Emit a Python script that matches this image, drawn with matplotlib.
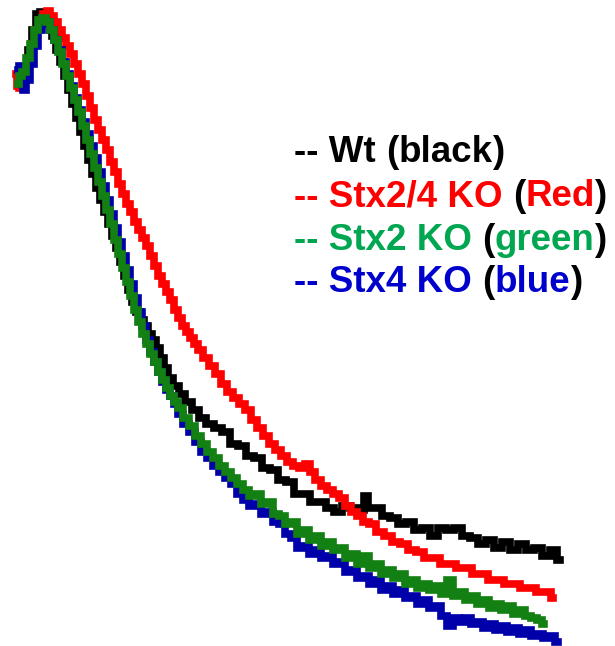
import numpy as np
import matplotlib
matplotlib.use('Agg')
import matplotlib.pyplot as plt

# traces (x = time, y = signal, in picture units, y grows downward)
wt_x = [18, 22, 26, 30, 34, 38, 42, 46, 50, 54, 58, 62, 66, 70, 74, 78, 82, 86, 90, 94, 98, 102, 106, 110, 114, 118,
        122, 126, 130, 134, 138, 142, 146, 150, 154, 158, 162, 166, 170, 176, 182, 188, 196, 202, 210, 218, 226, 234,
        242, 250, 258, 266, 274, 282, 290, 298, 306, 314, 322, 330, 338, 346, 354, 362, 366, 370, 378, 386, 394, 402,
        410, 418, 426, 434, 442, 450, 458, 466, 474, 482, 490, 498, 506, 514, 522, 530, 538, 546, 554, 560]
wt_y = [80, 84, 70, 50, 30, 14, 12, 16, 24, 36, 50, 62, 76, 90, 104, 118, 132, 146, 160, 174, 188, 200, 212, 224, 236, 248,
        262, 276, 290, 302, 312, 320, 326, 334, 340, 348, 358, 368, 378, 386, 394, 402, 410, 418, 424, 428,
        432, 444, 446, 456, 458, 468, 470, 480, 482, 494, 494, 502, 502, 508, 512, 506, 508, 510, 496, 508,
        508, 516, 518, 524, 522, 530, 528, 536, 528, 530, 528, 536, 538, 544, 540, 548, 542, 550, 544, 550,
        548, 556, 550, 560]

dko_x = [16, 17, 21, 25, 29, 33, 37, 41, 45, 48, 52, 56, 60, 64, 68, 72, 76, 80, 84, 88, 92, 96, 100, 104, 108, 112, 116,
         120, 124, 128, 132, 136, 140, 144, 148, 152, 156, 160, 164, 168, 172, 176, 180, 184, 188, 192, 196, 200, 206,
         212, 218, 224, 230, 236, 242, 248, 254, 260, 266, 272, 278, 284, 290, 296, 302, 308, 312, 318, 324, 330, 336,
         342, 348, 354, 360, 366, 372, 380, 388, 396, 404, 412, 420, 428, 436, 444, 452, 460, 468, 476, 484, 492, 500,
         508, 516, 524, 532, 540, 548, 553]
dko_y = [74, 86, 88, 74, 58, 44, 30, 20, 14, 11, 16, 22, 30, 38, 46, 54, 64, 74, 84, 96, 108, 120, 130, 140, 150, 162, 172,
         184, 194, 204, 212, 222, 230, 238, 246, 256, 266, 276, 284, 292, 300, 310, 318, 326, 332, 338, 344, 350, 358,
         366, 374, 384, 392, 398, 404, 410, 420, 428, 436, 444, 450, 456, 462, 466, 468, 464, 472, 480, 486, 490, 494,
         498, 506, 512, 516, 522, 524, 532, 536, 542, 544, 550, 552, 558, 558, 564, 564, 568, 568, 574, 574, 580, 580,
         584, 584, 588, 588, 592, 592, 598]

s2_x = [18, 20, 24, 28, 32, 36, 40, 44, 48, 52, 56, 60, 64, 68, 72, 76, 80, 84, 88, 92, 96, 100, 104, 108, 112, 116, 120,
        124, 128, 132, 136, 140, 144, 148, 152, 156, 160, 164, 168, 172, 176, 180, 186, 192, 198, 204, 210, 216, 222,
        228, 234, 240, 246, 252, 258, 264, 270, 276, 282, 288, 294, 300, 306, 312, 318, 324, 330, 336, 342, 348, 354,
        360, 366, 372, 378, 384, 390, 396, 402, 408, 414, 420, 426, 432, 438, 444, 450, 456, 462, 468, 474, 480, 486,
        492, 498, 504, 510, 516, 522, 528, 534, 540, 544]
s2_y = [84, 76, 72, 58, 44, 30, 20, 18, 22, 30, 40, 52, 64, 76, 88, 100, 112, 126, 140, 154, 168, 182, 196, 210, 224, 240,
        254, 268, 282, 296, 310, 322, 334, 344, 354, 362, 372, 380, 388, 396, 402, 408, 418, 426, 436, 444, 452, 458,
        466, 472, 478, 484,
        490, 496, 494, 504, 502, 514, 516, 524, 522, 534, 530, 540, 536, 546, 542, 550, 548, 558, 554, 564,
        556, 568, 564, 574, 570, 578, 574, 584, 580, 588, 584, 590, 586, 594, 580, 596, 592, 600, 596, 604,
        600, 608, 604, 610, 606, 614, 610, 616, 618, 620, 624]

s4_x = [18, 20, 22, 24, 28, 32, 36, 40, 44, 48, 52, 56, 60, 64, 68, 72, 76, 80, 84, 88, 92, 96, 100, 104, 108, 112, 116,
        120, 124, 128, 132, 136, 140, 144, 148, 152, 156, 160, 164, 168, 172, 176, 180, 186, 192, 198, 204, 210, 216,
        222, 228, 234, 240, 246, 252, 258, 264, 270, 276, 282, 288, 294, 300, 306, 312, 318, 324, 330, 336, 342, 348,
        354, 360, 366, 372, 378, 384, 390, 396, 402, 408, 414, 420, 426, 432, 438, 444, 450, 456, 462, 468, 474, 480,
        486, 492, 498, 504, 510, 516, 522, 528, 534, 540, 546, 552, 558]
s4_y = [70, 66, 80, 90, 80, 64, 46, 30, 20, 22, 30, 40, 50, 62, 74, 86, 98, 110, 122, 134, 146, 158, 172, 186, 200, 214,
        228, 242, 256, 270, 284, 298, 312, 326, 340, 352, 362, 372, 382, 390, 396, 404, 414, 424, 432, 442, 452, 458,
        466, 472, 478, 484, 494,
        500, 506, 504, 514, 512, 522, 524, 534, 538, 548, 546, 554, 550, 558, 556, 564, 562, 572, 570, 578,
        576, 584, 580, 590, 586, 594, 590, 598, 596, 604, 600, 608, 606, 616, 626, 618, 622, 618, 624, 622,
        628, 624, 630, 626, 632, 628, 634, 630, 636, 634, 638, 636, 642]

legend_rows = [
    [("-- Wt ", "black"), ("(", "black"), ("black", "black"), (")", "black")],
    [("-- Stx2/4 KO ", "#ff0000"), ("(", "black"), ("Red", "#ff0000"), (")", "black")],
    [("-- Stx2 KO ", "#00a650"), ("(", "black"), ("green", "#00a650"), (")", "black")],
    [("-- Stx4 KO ", "#0000cc"), ("(", "black"), ("blue", "#0000cc"), (")", "black")],
]

fig = plt.figure(figsize=(6.15, 6.46), dpi=100)
ax = fig.add_axes([0, 0, 1, 1])
ax.set_xlim(0, 615)
ax.set_ylim(646, 0)
ax.axis('off')

lw = 5.5
ax.plot(wt_x, wt_y, color='black', lw=lw, drawstyle='steps-mid', solid_joinstyle='miter')
ax.plot(dko_x, dko_y, color='#ff0000', lw=lw, drawstyle='steps-mid', solid_joinstyle='miter')
ax.plot(s4_x, s4_y, color='#0000aa', lw=lw, drawstyle='steps-mid', solid_joinstyle='miter')
ax.plot(s2_x, s2_y, color='#128012', lw=lw, drawstyle='steps-mid', solid_joinstyle='miter')

# legend written as coloured text pieces chained one after another
row_y = [153, 197, 240, 283]
for parts, y in zip(legend_rows, row_y):
    prev = None
    for s, c in parts:
        kw = dict(fontsize=26.5, fontweight='bold', family='Liberation Sans', color=c)
        if prev is None:
            prev = ax.text(294, y, s, va='center', ha='left', **kw)
        else:
            prev = ax.annotate(s, xy=(1, 0), xycoords=prev, va='bottom', ha='left', **kw)

fig.savefig('out.png', dpi=100)
